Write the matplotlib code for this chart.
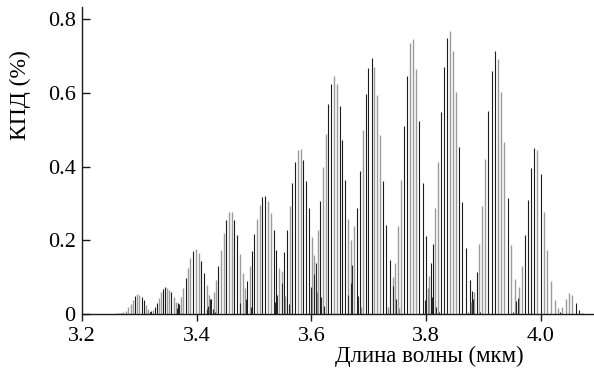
import matplotlib
matplotlib.use("Agg")
import matplotlib.pyplot as plt

plt.rcParams['font.family'] = ['Liberation Serif', 'DejaVu Serif']

# ---- data ----
wl_black = [3.2681, 3.2931, 3.3041, 3.3082, 3.3193, 3.3268, 3.3303, 3.3419, 3.3454, 3.3559,
            3.3670, 3.3821, 3.3937, 3.4077, 3.4123, 3.4257, 3.4379, 3.4519, 3.4658, 3.4699,
            3.4880, 3.4967, 3.5008, 3.5147, 3.5194, 3.5351, 3.5391, 3.5531, 3.5583, 3.5665,
            3.5717, 3.5863, 3.5915, 3.5967, 3.6159, 3.6299, 3.6340, 3.6497, 3.6543, 3.6596,
            3.6805, 3.6846, 3.6945, 3.6997, 3.7050, 3.7253, 3.7311, 3.7364, 3.7608, 3.7660,
            3.7881, 3.7940, 3.7992, 3.8085, 3.8120, 3.8260, 3.8306, 3.8364, 3.8579, 3.8632,
            3.8690, 3.8760, 3.8800, 3.8882, 3.9086, 3.9144, 3.9196, 3.9429, 3.9720, 3.9772,
            3.9824, 3.9877, 3.9999, 4.0610, 4.0662, 4.0720]
h_black = [0.004, 0.049, 0.046, 0.039, 0.007, 0.019, 0.030, 0.069, 0.073, 0.059,
           0.030, 0.098, 0.172, 0.145, 0.111, 0.041, 0.131, 0.256, 0.256, 0.215,
           0.090, 0.172, 0.218, 0.317, 0.321, 0.229, 0.174, 0.168, 0.229, 0.357,
           0.412, 0.417, 0.360, 0.287, 0.308, 0.570, 0.624, 0.563, 0.472, 0.364,
           0.287, 0.388, 0.597, 0.667, 0.694, 0.360, 0.242, 0.147, 0.510, 0.646,
           0.525, 0.357, 0.211, 0.138, 0.190, 0.547, 0.669, 0.748, 0.452, 0.303,
           0.179, 0.093, 0.064, 0.115, 0.552, 0.659, 0.712, 0.315, 0.215, 0.309,
           0.397, 0.450, 0.381, 0.030, 0.012, 0.003]

wl_gray = [3.2605, 3.2646, 3.2716, 3.2768, 3.2809, 3.2849, 3.2890, 3.2966, 3.3001, 3.3117,
           3.3158, 3.3233, 3.3338, 3.3379, 3.3489, 3.3524, 3.3600, 3.3640, 3.3699, 3.3734,
           3.3769, 3.3856, 3.3891, 3.3984, 3.4036, 3.4176, 3.4216, 3.4298, 3.4339, 3.4420,
           3.4473, 3.4560, 3.4612, 3.4752, 3.4804, 3.4845, 3.4926, 3.5060, 3.5101, 3.5240,
           3.5298, 3.5444, 3.5485, 3.5624, 3.5764, 3.5816, 3.6008, 3.6055, 3.6113, 3.6206,
           3.6258, 3.6392, 3.6444, 3.6648, 3.6700, 3.6753, 3.6904, 3.7096, 3.7148, 3.7201,
           3.7416, 3.7462, 3.7509, 3.7561, 3.7713, 3.7771, 3.7823, 3.8044, 3.8155, 3.8207,
           3.8411, 3.8469, 3.8521, 3.8841, 3.8923, 3.8975, 3.9033, 3.9248, 3.9307, 3.9359,
           3.9482, 3.9551, 3.9621, 3.9673, 3.9935, 4.0051, 4.0110, 4.0173, 4.0243, 4.0307,
           4.0377, 4.0435, 4.0493, 4.0552]
h_gray = [0.004, 0.004, 0.005, 0.009, 0.019, 0.028, 0.039, 0.054, 0.051, 0.025,
          0.014, 0.012, 0.045, 0.060, 0.072, 0.066, 0.046, 0.032, 0.022, 0.048,
          0.071, 0.125, 0.152, 0.176, 0.165, 0.079, 0.052, 0.061, 0.093, 0.174,
          0.220, 0.276, 0.276, 0.163, 0.113, 0.070, 0.132, 0.259, 0.296, 0.306,
          0.274, 0.125, 0.117, 0.294, 0.444, 0.447, 0.209, 0.161, 0.229, 0.398,
          0.489, 0.646, 0.624, 0.259, 0.201, 0.240, 0.498, 0.671, 0.594, 0.486,
          0.100, 0.138, 0.238, 0.364, 0.734, 0.745, 0.664, 0.104, 0.289, 0.412,
          0.768, 0.714, 0.601, 0.060, 0.190, 0.294, 0.421, 0.692, 0.602, 0.466,
          0.188, 0.095, 0.073, 0.132, 0.445, 0.277, 0.173, 0.090, 0.039, 0.016,
          0.021, 0.041, 0.057, 0.052]

wl_minor_dark = [3.3180, 3.3210, 3.3655, 3.3685, 3.4186, 3.4206, 3.4227, 3.4278, 3.4318, 3.4758,
                 3.4868, 3.4949, 3.5368, 3.5409, 3.5496, 3.5613, 3.5997, 3.6043, 3.6078, 3.6171,
                 3.6229, 3.6637, 3.6689, 3.6718, 3.6811, 3.7375, 3.7428, 3.7480, 3.7986, 3.8103,
                 3.8167, 3.8225, 3.8813, 3.8935, 3.9515, 3.9562, 3.9603, 4.0342]
h_minor_dark = [0.006, 0.008, 0.018, 0.028, 0.014, 0.023, 0.040, 0.014, 0.007, 0.030,
                0.041, 0.021, 0.032, 0.052, 0.084, 0.028, 0.073, 0.109, 0.138, 0.046,
                0.023, 0.052, 0.086, 0.134, 0.050, 0.041, 0.077, 0.040, 0.039, 0.048,
                0.020, 0.006, 0.042, 0.006, 0.006, 0.036, 0.043, 0.005]

wl_minor_gray = [3.4237, 3.5543, 3.6101, 3.6869, 3.7340, 3.7521, 3.8027, 3.8731, 3.8778]
h_minor_gray = [0.027, 0.050, 0.060, 0.020, 0.021, 0.017, 0.070, 0.007, 0.033]

x_ticks = [3.2, 3.4, 3.6, 3.8, 4.0]
x_ticklabels = ["3.2", "3.4", "3.6", "3.8", "4.0"]
y_ticks = [0, 0.2, 0.4, 0.6, 0.8]
y_ticklabels = ["0", "0.2", "0.4", "0.6", "0.8"]
x_label = "Длина волны (мкм)"
y_label = "КПД (%)"

# ---- figure ----
fig = plt.figure(figsize=(5.94, 3.80), dpi=100)
ax = fig.add_axes([0.138, 0.173, 0.862, 0.809])

ax.vlines(wl_gray, 0, h_gray, colors="#9c9c9c", linewidth=1.0)
ax.vlines(wl_black, 0, h_black, colors="#1c1c1c", linewidth=0.8)
ax.vlines(wl_minor_gray, 0, h_minor_gray, colors="#8a8a8a", linewidth=1.0)
ax.vlines(wl_minor_dark, 0, h_minor_dark, colors="#2a2a2a", linewidth=0.8)

ax.set_xlim(3.2, 4.093)
ax.set_ylim(0, 0.833)

for s in ("top", "right"):
    ax.spines[s].set_visible(False)
for s in ("left", "bottom"):
    ax.spines[s].set_linewidth(1.0)
    ax.spines[s].set_color("#1a1a1a")

ax.set_xticks(x_ticks)
ax.set_xticklabels(x_ticklabels)
ax.set_yticks(y_ticks)
ax.set_yticklabels(y_ticklabels)
ax.tick_params(axis="x", direction="out", length=5, width=1.0, labelsize=16, pad=4.5, color="#1a1a1a")
ax.tick_params(axis="y", direction="in", length=6, width=1.0, labelsize=16, pad=4.5, color="#1a1a1a")

fig.text(0.722, 0.063, x_label, fontsize=16.5, ha="center", va="center")
fig.text(0.035, 0.75, y_label, fontsize=17, ha="center", va="center", rotation=90)

fig.savefig("out.png", dpi=100)
